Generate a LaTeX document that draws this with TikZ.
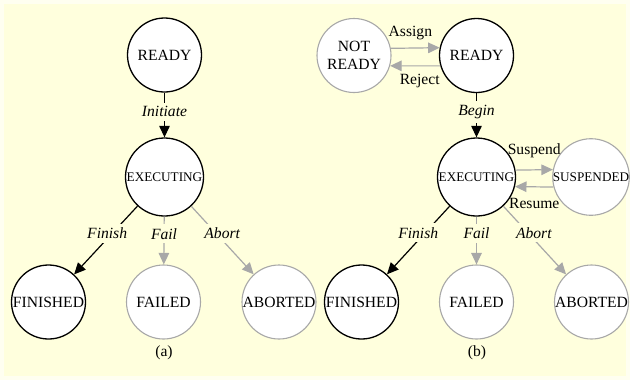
\documentclass[tikz,border=0pt]{standalone}
\usepackage{fontspec}
\setmainfont{Liberation Serif}
\usetikzlibrary{arrows.meta}
\definecolor{bgout}{HTML}{FFFFF0}
\definecolor{bgin}{HTML}{FFFFDD}
\definecolor{lg}{HTML}{A8A8A8}
\begin{document}
\begin{tikzpicture}[x=1bp,y=-1bp,
  st/.style={circle, draw=black, fill=white, minimum size=74bp, inner sep=0pt,
    font=\fontsize{15.6bp}{18bp}\selectfont, line width=1.3bp, align=center},
  gst/.style={st, draw=lg, line width=1.1bp},
  sm/.style={font=\fontsize{13.2bp}{15bp}\selectfont, minimum size=78bp},
  be/.style={-{Triangle[length=11.5bp,width=10.5bp]}, line width=1.2bp, draw=black},
  ge/.style={be, draw=lg},
  lab/.style={font=\fontsize{15.6bp}{18bp}\selectfont\itshape, fill=bgin, inner xsep=1bp, inner ysep=4bp},
  rlab/.style={font=\fontsize{15.6bp}{18bp}\selectfont, inner sep=1bp}
]
\useasboundingbox (0,0) rectangle (630,380);
\fill[bgout] (0,0) rectangle (630,380);
\fill[bgin] (4,4) rectangle (626,376);

% panel (a)
\node[st] (aR) at (164.5,55) {READY};
\node[st,sm] (aE) at (164.5,177) {EXECUTING};
\node[st] (aF) at (48.5,302) {FINISHED};
\node[gst] (aFa) at (163.5,302) {FAILED};
\node[gst] (aA) at (279,302) {ABORTED};
\node[rlab] (aL) at (164,353) {(a)};

\draw[be] (aR) -- node[lab, pos=0.43] {Initiate} (aE);
\draw[be] (aE) -- node[lab, pos=0.4, xshift=-5bp] {Finish} (aF);
\draw[ge] (aE) -- node[lab, pos=0.36] {Fail} (aFa);
\draw[ge] (aE) -- node[lab, pos=0.4, xshift=6bp] {Abort} (aA);

% panel (b)
\node[gst] (bN) at (354,55.5) {NOT\\READY};
\node[st] (bR) at (476.5,55.5) {READY};
\node[st,sm] (bE) at (476.5,177) {EXECUTING};
\node[gst,sm,minimum size=75bp] (bS) at (591,177) {SUSPENDED};
\node[st] (bF) at (361.5,302) {FINISHED};
\node[gst] (bFa) at (476.5,302) {FAILED};
\node[gst] (bA) at (591.5,302) {ABORTED};
\node[rlab] (bL) at (477,353) {(b)};

\draw[ge] (bN.11.7) -- node[rlab, pos=0.4, yshift=15bp] {Assign} (bR.168.3);
\draw[ge] (bR.196.5) -- node[rlab, pos=0.41, yshift=-15bp] {Reject} (bN.-16.5);
\draw[be] (bR) -- node[lab, pos=0.43] {Begin} (bE);
\draw[ge] (bE.10.2) -- node[rlab, pos=0.5, yshift=19bp] {Suspend} (bS.169.2);
\draw[ge] (bS.195.5) -- node[rlab, pos=0.5, yshift=-17bp] {Resume} (bE.-14.7);
\draw[be] (bE) -- node[lab, pos=0.39, xshift=-7bp] {Finish} (bF);
\draw[ge] (bE) -- node[lab, pos=0.35] {Fail} (bFa);
\draw[ge] (bE) -- node[lab, pos=0.39, xshift=6bp] {Abort} (bA);
\end{tikzpicture}
\end{document}
